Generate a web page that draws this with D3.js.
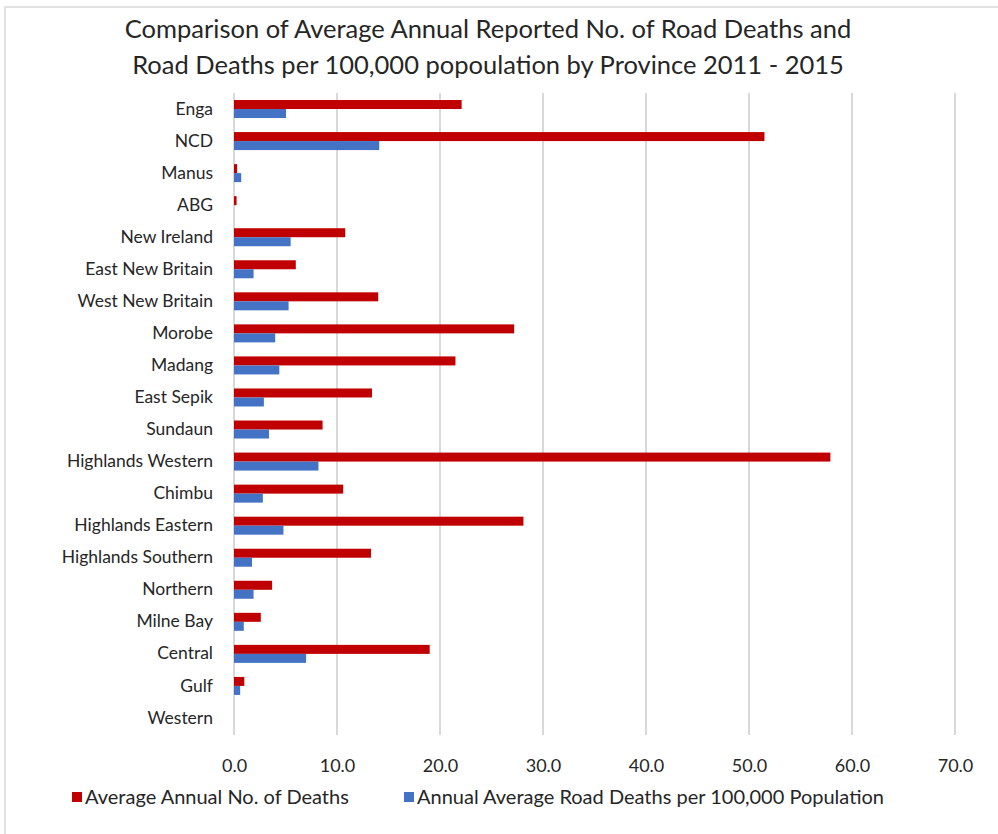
<!DOCTYPE html>
<html>
<head>
<meta charset="utf-8">
<script src="https://cdn.jsdelivr.net/npm/d3@7"></script>
<style>
  body { margin: 0; background: #fff; }
  text { font-family: Lato, "Open Sans", sans-serif; fill: #262626; }
</style>
</head>
<body>
<div id="chart"></div>
<script>
// Provinces, top to bottom
const provinces = ["Enga", "NCD", "Manus", "ABG", "New Ireland", "East New Britain",
  "West New Britain", "Morobe", "Madang", "East Sepik", "Sundaun", "Highlands Western",
  "Chimbu", "Highlands Eastern", "Highlands Southern", "Northern", "Milne Bay",
  "Central", "Gulf", "Western"];

// Average annual no. of deaths
const avgDeaths = [22.1, 51.5, 0.3, 0.25, 10.8, 6.0, 14.0, 27.2, 21.5, 13.4, 8.6, 57.9,
  10.6, 28.1, 13.3, 3.7, 2.6, 19.0, 1.0, 0];

// Road deaths per 100,000 population
const per100k = [5.05, 14.1, 0.7, 0, 5.5, 1.9, 5.3, 4.0, 4.4, 2.9, 3.4, 8.2,
  2.8, 4.8, 1.75, 1.9, 0.95, 7.0, 0.6, 0];

const xTicks = [0, 10, 20, 30, 40, 50, 60, 70];

const seriesNames = ["Average Annual No. of Deaths", "Annual Average Road Deaths per 100,000 Population"];
const colors = ["#c00000", "#4472c4"];

const W = 998, H = 834;
const margin = { top: 93, right: 43, bottom: 100, left: 234 };

const svg = d3.select("#chart").append("svg")
  .attr("width", W).attr("height", H);

// outer frame
svg.append("rect")
  .attr("x", 5).attr("y", 7).attr("width", W).attr("height", H)
  .attr("fill", "none").attr("stroke", "#d9d9d9").attr("stroke-width", 1.5);

// title
const title = svg.append("text")
  .attr("text-anchor", "middle")
  .style("font-size", "25.5px");
title.append("tspan").attr("x", 488).attr("y", 38)
  .text("Comparison of Average Annual Reported No. of Road Deaths and");
title.append("tspan").attr("x", 488).attr("y", 74)
  .text("Road Deaths per 100,000 popoulation by Province 2011 - 2015");

const x = d3.scaleLinear().domain([0, 70]).range([margin.left, 955]);
const y = d3.scaleBand().domain(provinces).range([margin.top, 734]);

// gridlines
svg.append("g")
  .selectAll("line")
  .data(xTicks)
  .join("line")
  .attr("x1", d => x(d)).attr("x2", d => x(d))
  .attr("y1", margin.top).attr("y2", 735)
  .attr("stroke", "#d9d9d9").attr("stroke-width", 2);

// x axis labels
const xAxis = svg.append("g")
  .attr("transform", "translate(0,756)")
  .call(d3.axisBottom(x).tickValues(xTicks).tickFormat(d3.format(".1f")).tickSize(0));
xAxis.select(".domain").remove();
xAxis.selectAll("text").style("font-size", "18px").attr("dy", "0.71em");

// y axis labels
const yAxis = svg.append("g")
  .attr("transform", `translate(${margin.left - 21},0)`)
  .call(d3.axisLeft(y).tickSize(0));
yAxis.select(".domain").remove();
yAxis.selectAll("text").style("font-size", "17.5px").attr("x", 0);

const barH = 9;
const rows = provinces.map((p, i) => ({ p, a: avgDeaths[i], b: per100k[i] }));

// red bars (top)
svg.append("g").selectAll("rect")
  .data(rows)
  .join("rect")
  .attr("x", x(0))
  .attr("y", d => y(d.p) + y.bandwidth() / 2 - barH)
  .attr("width", d => x(d.a) - x(0))
  .attr("height", barH)
  .attr("fill", colors[0]);

// blue bars (below)
svg.append("g").selectAll("rect")
  .data(rows)
  .join("rect")
  .attr("x", x(0))
  .attr("y", d => y(d.p) + y.bandwidth() / 2)
  .attr("width", d => x(d.b) - x(0))
  .attr("height", barH)
  .attr("fill", colors[1]);

// legend
const legendX = [72, 404];
const legend = svg.append("g").selectAll("g")
  .data(seriesNames)
  .join("g")
  .attr("transform", (d, i) => `translate(${legendX[i]},797)`);
legend.append("rect")
  .attr("x", 0).attr("y", -5).attr("width", 10).attr("height", 10)
  .attr("fill", (d, i) => colors[i]);
legend.append("text")
  .attr("x", 13).attr("dy", "0.35em")
  .style("font-size", "20px")
  .text(d => d);
</script>
</body>
</html>
